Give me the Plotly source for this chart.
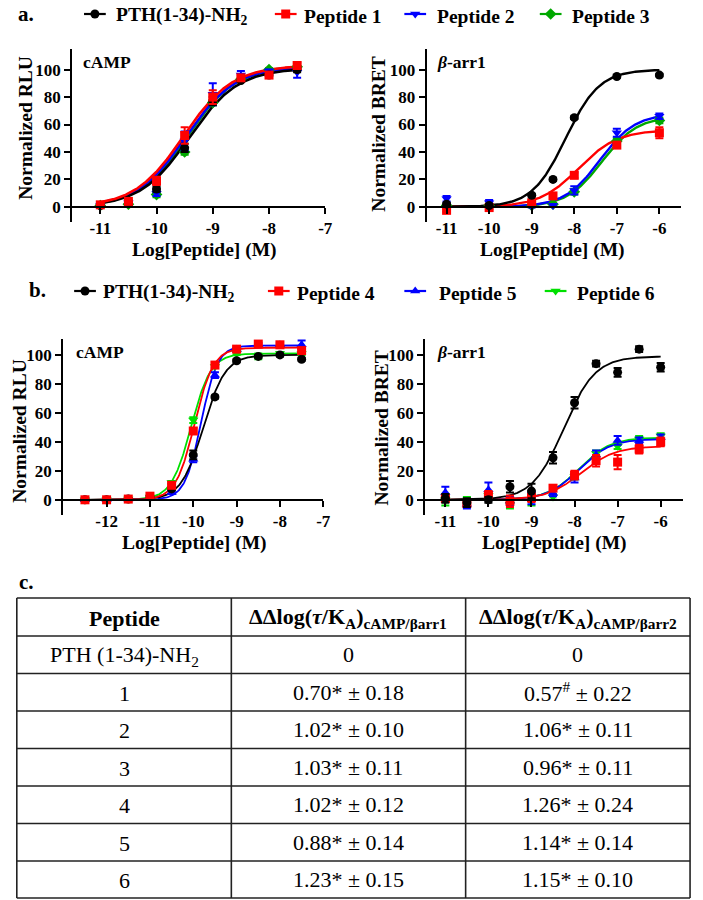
import numpy as np
import plotly.graph_objects as go

W, H = 703, 900
FONT = "Liberation Serif"

# ---------------- data: panel a ----------------
a_camp_x = [-11, -10.5, -10, -9.5, -9, -8.5, -8, -7.5]
a_camp_pth = [1, 2.5, 13, 43, 77, 92, 96, 100]
a_camp_p1 = [1.5, 4, 19, 52, 80, 94, 96, 103]
a_camp_p2 = [1, 3, 10, 48, 82, 96, 99, 98]
a_camp_p3 = [1, 2, 9, 40, 76, 93, 100, 102]
a_camp_pth_err = [1, 1, 2, 3, 3, 1, 1, 2]
a_camp_p1_err = [1, 1, 3, 6, 5, 2, 2, 2]
a_camp_p2_err = [1, 1, 2, 7, 8, 3, 1, 4]
a_camp_p3_err = [1, 1, 2, 2, 2, 1, 1, 1]
# fit parameters: bottom, top, logEC50, hill
a_camp_fit = {"pth": [0, 101, -9.42, 1.0], "p1": [0, 103, -9.52, 1.0],
              "p2": [0, 102, -9.48, 1.0], "p3": [0, 103, -9.45, 1.0]}

a_arr_x = [-11, -10, -9, -8.5, -8, -7, -6]
a_arr_pth = [2, 1, 8.5, 20, 65, 95, 96]
a_arr_p1 = [-2.5, -0.5, 3, 8, 23, 45, 54]
a_arr_p2 = [6, 3, 0.5, 1, 12, 54, 66]
a_arr_p3 = [1, 1, 1, 2, 11, 48, 63]
a_arr_pth_err = [1, 1, 1, 1, 1, 1, 1]
a_arr_p1_err = [1, 1, 1, 1, 2, 2, 4]
a_arr_p2_err = [2, 2, 1, 1, 3, 3, 2]
a_arr_p3_err = [1, 1, 1, 1, 2, 2, 2]
a_arr_fit = {"pth": [0, 100, -8.2, 1.1], "p1": [0, 56, -7.9, 0.95],
             "p2": [0, 68, -7.4, 1.05], "p3": [0, 66, -7.35, 1.05]}

# ---------------- data: panel b ----------------
b_camp_x = [-12.5, -12, -11.5, -11, -10.5, -10, -9.5, -9, -8.5, -8, -7.5]
b_camp_pth = [0, 0, 0.5, 2, 7.5, 31, 71, 96, 99, 100, 97]
b_camp_p4 = [0, 0, 0.5, 2.5, 10, 47.5, 93, 104, 107.5, 107, 103]
b_camp_p5 = [0, 0, 0.5, 1, 5, 28, 86, 104, 107, 107, 107]
b_camp_p6 = [0, 0, 0.5, 2, 12, 55, 92, 101, 99, 101, 101]
b_camp_pth_err = [0.5, 0.5, 0.5, 0.5, 1, 3, 1, 1, 1, 1, 1]
b_camp_p4_err = [0.5, 0.5, 0.5, 0.5, 1, 2, 2, 1, 1, 1, 1]
b_camp_p5_err = [0.5, 0.5, 0.5, 0.5, 1, 2, 2, 1, 1, 1, 3]
b_camp_p6_err = [0.5, 0.5, 0.5, 0.5, 1, 2, 1, 1, 2, 1, 1]
b_camp_fit = {"pth": [0, 100, -9.77, 1.7], "p4": [0, 105, -9.97, 2.0],
              "p5": [0, 106.5, -9.82, 2.3], "p6": [0, 101, -10.05, 1.9]}

b_arr_x = [-11, -10.5, -10, -9.5, -9, -8.5, -8, -7.5, -7, -6.5, -6]
b_arr_pth = [1, -2, 0, 9, 6, 29, 67, 94, 88, 104, 91.5]
b_arr_p4 = [1, -2.5, 3, -1, 1.5, 8, 17, 27, 26, 35, 40]
b_arr_p5 = [5, -3, 7, -1, 1, 4.5, 15, 31, 41, 41, 43]
b_arr_p6 = [0, -1, 3, -3, -1, 2, 16, 32, 37, 42, 44]
b_arr_pth_err = [3, 3, 2, 4, 5, 4, 4, 2, 3, 2, 3]
b_arr_p4_err = [2, 2, 3, 4, 3, 2, 3, 4, 5, 3, 3]
b_arr_p5_err = [4, 3, 5, 3, 4, 2, 3, 3, 3, 2, 2]
b_arr_p6_err = [4, 3, 2, 3, 3, 2, 2, 2, 2, 2, 2]
b_arr_fit = {"pth": [0, 99, -8.25, 1.2], "p4": [0, 37, -7.85, 1.1],
             "p5": [0, 42, -7.9, 1.2], "p6": [0, 43, -7.9, 1.2]}

y_ticks = [0, 20, 40, 60, 80, 100]
a_camp_xticks = [-11, -10, -9, -8, -7]
a_arr_xticks = [-11, -10, -9, -8, -7, -6]
b_camp_xticks = [-12, -11, -10, -9, -8, -7]
b_arr_xticks = [-11, -10, -9, -8, -7, -6]

# ---------------- data: table c ----------------
tbl_header = ["Peptide",
              "ΔΔlog(<i>τ</i>/K<sub>A</sub>)<sub>cAMP/βarr1</sub>",
              "ΔΔlog(<i>τ</i>/K<sub>A</sub>)<sub>cAMP/βarr2</sub>"]
tbl_peptide = ["PTH (1-34)-NH<sub>2</sub>", "1", "2", "3", "4", "5", "6"]
tbl_arr1 = ["0", "0.70* ± 0.18", "1.02* ± 0.10", "1.03* ± 0.11",
            "1.02* ± 0.12", "0.88* ± 0.14", "1.23* ± 0.15"]
tbl_arr2 = ["0", "0.57<sup>#</sup> ± 0.22", "1.06* ± 0.11", "0.96* ± 0.11",
            "1.26* ± 0.24", "1.14* ± 0.14", "1.15* ± 0.10"]

# ---------------- styling ----------------
BLACK, RED, BLUE = "#000000", "#FF0000", "#0000FF"
GREEN_A, GREEN_B = "#00A800", "#00E000"

names_a = ["PTH(1-34)-NH<sub>2</sub>", "Peptide 1", "Peptide 2", "Peptide 3"]
names_b = ["PTH(1-34)-NH<sub>2</sub>", "Peptide 4", "Peptide 5", "Peptide 6"]
colors_a = [BLACK, RED, BLUE, GREEN_A]
colors_b = [BLACK, RED, BLUE, GREEN_B]
symbols_a = ["circle", "square", "triangle-down", "diamond"]
symbols_b = ["circle", "square", "triangle-up", "triangle-down"]


def X(px):
    return px / W


def Y(py):
    return 1 - py / H


def logistic(x, p):
    b, t, ec, h = p
    return b + (t - b) / (1 + 10 ** ((ec - x) * h))


fig = go.Figure()


def add_panel(xa, ya, xs, ys_list, errs, fits, colors, symbols, order, lw, msize):
    xs_fine = np.linspace(min(xs), max(xs), 300)
    for i in order:
        fig.add_trace(go.Scatter(
            x=xs_fine, y=logistic(xs_fine, fits[i]), mode="lines",
            line=dict(color=colors[i], width=lw), xaxis=xa, yaxis=ya,
            showlegend=False, hoverinfo="skip", cliponaxis=False))
    for i in order:
        fig.add_trace(go.Scatter(
            x=xs, y=ys_list[i], mode="markers",
            marker=dict(color=colors[i], symbol=symbols[i], size=msize,
                        line=dict(width=0)),
            error_y=dict(type="data", array=errs[i], color=colors[i],
                         thickness=2, width=4),
            xaxis=xa, yaxis=ya, showlegend=False, cliponaxis=False))


keys_a = ["pth", "p1", "p2", "p3"]
keys_b = ["pth", "p4", "p5", "p6"]

add_panel("x", "y", a_camp_x, [a_camp_pth, a_camp_p1, a_camp_p2, a_camp_p3],
          [a_camp_pth_err, a_camp_p1_err, a_camp_p2_err, a_camp_p3_err],
          [a_camp_fit[k] for k in keys_a], colors_a, symbols_a,
          [3, 2, 0, 1], 2.6, 9)
add_panel("x2", "y2", a_arr_x, [a_arr_pth, a_arr_p1, a_arr_p2, a_arr_p3],
          [a_arr_pth_err, a_arr_p1_err, a_arr_p2_err, a_arr_p3_err],
          [a_arr_fit[k] for k in keys_a], colors_a, symbols_a,
          [3, 2, 1, 0], 2.4, 9)
add_panel("x3", "y3", b_camp_x, [b_camp_pth, b_camp_p4, b_camp_p5, b_camp_p6],
          [b_camp_pth_err, b_camp_p4_err, b_camp_p5_err, b_camp_p6_err],
          [b_camp_fit[k] for k in keys_b], colors_b, symbols_b,
          [3, 2, 0, 1], 1.8, 9)
add_panel("x4", "y4", b_arr_x, [b_arr_pth, b_arr_p4, b_arr_p5, b_arr_p6],
          [b_arr_pth_err, b_arr_p4_err, b_arr_p5_err, b_arr_p6_err],
          [b_arr_fit[k] for k in keys_b], colors_b, symbols_b,
          [3, 2, 1, 0], 1.8, 9)

# ---------------- legends (decoration on a hidden pixel overlay) ----------------
annotations = []


def legend_row(y_px, marker_px, text_px, names, colors, symbols):
    for m, t, n, c, s in zip(marker_px, text_px, names, colors, symbols):
        fig.add_trace(go.Scatter(
            x=[m - 11, m + 11], y=[y_px, y_px], mode="lines",
            line=dict(color=c, width=2.2), xaxis="x5", yaxis="y5",
            showlegend=False, hoverinfo="skip"))
        fig.add_trace(go.Scatter(
            x=[m], y=[y_px], mode="markers",
            marker=dict(color=c, symbol=s, size=9), xaxis="x5", yaxis="y5",
            showlegend=False, hoverinfo="skip"))
        annotations.append(dict(
            x=X(t), y=Y(y_px + 2), xref="paper", yref="paper", text=n,
            showarrow=False, xanchor="left", yanchor="middle",
            font=dict(family=FONT, size=19.5, color="black", weight="bold")))


legend_row(14, [96, 289, 420, 557], [115, 305, 440, 577], names_a, colors_a, symbols_a)
legend_row(291, [86, 282, 420, 562], [102, 298, 442, 582], names_b, colors_b, symbols_b)

# ---------------- axes ----------------
TICKFONT = dict(family=FONT, size=17, color="black", weight="bold")


def xaxis_cfg(d0, d1, rng, ticks, zero_py):
    return dict(domain=[X(d0), X(d1)], range=rng, anchor="free",
                position=Y(zero_py), showline=True, linecolor="black",
                linewidth=2, ticks="outside", ticklen=6, tickwidth=2,
                tickcolor="black", tickvals=ticks,
                ticktext=[str(v) for v in ticks], tickfont=TICKFONT,
                showgrid=False, zeroline=False, fixedrange=True,
                ticklabelstandoff=0)


def yaxis_cfg(anchor, top_py, bot_py, rng):
    return dict(domain=[Y(bot_py), Y(top_py)], range=rng, anchor=anchor,
                showline=True, linecolor="black", linewidth=2,
                ticks="outside", ticklen=6, tickwidth=2, tickcolor="black",
                tickvals=y_ticks, ticktext=[str(v) for v in y_ticks],
                tickfont=TICKFONT, showgrid=False, zeroline=False,
                fixedrange=True)


fig.update_layout(
    xaxis=xaxis_cfg(73, 329, [-11.5, -7], a_camp_xticks, 206.8),
    yaxis=yaxis_cfg("x", 49, 222, [-11, 115]),
    xaxis2=xaxis_cfg(431.5, 688.5, [-11.47, -5.5], a_arr_xticks, 206.8),
    yaxis2=yaxis_cfg("x2", 49, 222, [-11, 115]),
    xaxis3=xaxis_cfg(64, 327, [-13, -7], b_camp_xticks, 500),
    yaxis3=yaxis_cfg("x3", 339, 515, [-10.5, 111]),
    xaxis4=xaxis_cfg(430, 690.5, [-11.47, -5.49], b_arr_xticks, 500),
    yaxis4=yaxis_cfg("x4", 339, 515, [-10.5, 111]),
    xaxis5=dict(domain=[0, 1], range=[0, W], visible=False, fixedrange=True),
    yaxis5=dict(domain=[0, 1], range=[H, 0], visible=False, fixedrange=True),
)


def text_ann(px, py, text, size, anchor="center", bold=True, angle=0):
    annotations.append(dict(
        x=X(px), y=Y(py), xref="paper", yref="paper", text=text,
        showarrow=False, xanchor=anchor, yanchor="middle", textangle=angle,
        font=dict(family=FONT, size=size, color="black",
                  weight="bold" if bold else "normal")))


# panel letters
text_ann(16, 14, "a.", 21, "left")
text_ann(27, 290, "b.", 21, "left")
text_ann(17, 582, "c.", 21, "left")

# axis titles
text_ann(207, 250, "Log[Peptide] (M)", 19.5)
text_ann(559, 250, "Log[Peptide] (M)", 19.5)
text_ann(197, 543, "Log[Peptide] (M)", 19.5)
text_ann(561, 543, "Log[Peptide] (M)", 19.5)
text_ann(25, 128, "Normalized RLU", 19.5, angle=-90)
text_ann(383, 134, "Normalized BRET", 19.5, angle=-90)
text_ann(19, 431, "Normalized RLU", 19.5, angle=-90)
text_ann(386, 428, "Normalized BRET", 19.5, angle=-90)

# in-plot labels
text_ann(82, 62, "cAMP", 17.5, "left")
text_ann(440, 62, "<i>β</i>-arr1", 17.5, "left")
text_ann(75, 352, "cAMP", 17.5, "left")
text_ann(440, 352, "<i>β</i>-arr1", 17.5, "left")

# ---------------- table c ----------------
col_edges = [17, 234, 471, 698]
row_edges = [598, 636, 673.5, 711, 748.5, 786, 823.5, 861, 898]
shapes = []
for xe in col_edges:
    shapes.append(dict(type="line", xref="paper", yref="paper",
                       x0=X(xe), x1=X(xe), y0=Y(row_edges[0]), y1=Y(row_edges[-1]),
                       line=dict(color="#222", width=1.6)))
for ye in row_edges:
    shapes.append(dict(type="line", xref="paper", yref="paper",
                       x0=X(col_edges[0]), x1=X(col_edges[-1]), y0=Y(ye), y1=Y(ye),
                       line=dict(color="#222", width=1.6)))

col_centers = [(col_edges[i] + col_edges[i + 1]) / 2 for i in range(3)]
row_centers = [(row_edges[i] + row_edges[i + 1]) / 2 for i in range(len(row_edges) - 1)]

for j, t in enumerate(tbl_header):
    text_ann(col_centers[j], row_centers[0] + 1, t, 22, bold=True)
for i in range(len(tbl_peptide)):
    yc = row_centers[i + 1]
    text_ann(col_centers[0], yc + 1, tbl_peptide[i], 22, bold=False)
    text_ann(col_centers[1], yc, tbl_arr1[i], 22, bold=False)
    text_ann(col_centers[2], yc, tbl_arr2[i], 22, bold=False)

fig.update_layout(
    width=W, height=H, margin=dict(l=0, r=0, t=0, b=0),
    paper_bgcolor="white", plot_bgcolor="rgba(0,0,0,0)",
    showlegend=False, annotations=annotations, shapes=shapes,
    font=dict(family=FONT, color="black"),
)

fig.write_html(
    "out.html",
    config={"displayModeBar": False, "staticPlot": True},
    post_script="document.body.style.margin='0';document.body.style.padding='0';"
                "document.body.style.overflow='hidden';",
)
